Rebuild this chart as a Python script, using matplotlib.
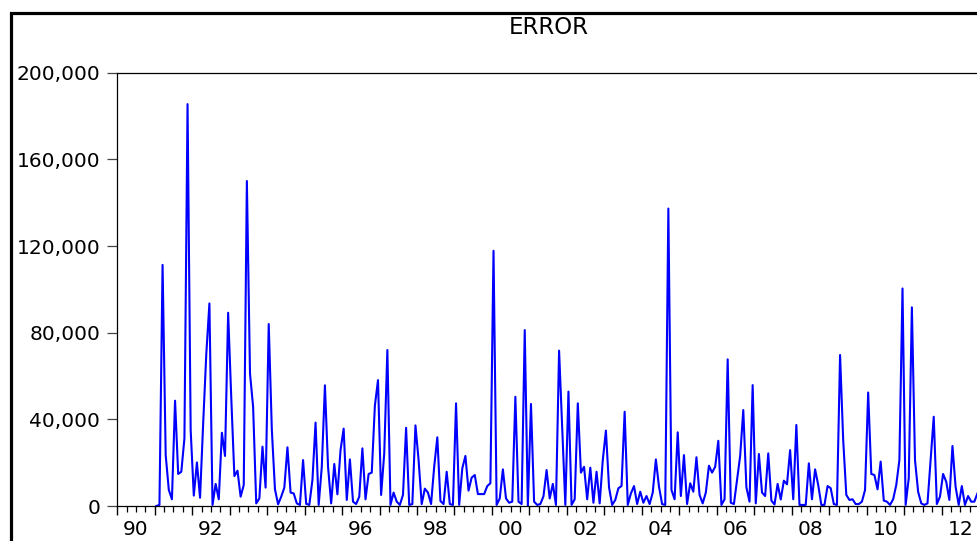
import numpy as np
import matplotlib
matplotlib.use("Agg")
import matplotlib.pyplot as plt
from matplotlib.patches import Rectangle
from matplotlib.ticker import FuncFormatter

plt.rcParams['font.family'] = ['DejaVu Sans']

# monthly forecast error, Jan 1991 onwards (one row per year)
err_91_94 = [
    0, 500, 111300, 23500, 7400, 3100, 48600, 14800, 15800, 31200, 185500, 35000,
    4800, 20100, 3800, 38000, 70000, 93500, 500, 10200, 3100, 33800, 23100, 89200,
    50000, 13800, 16300, 4300, 9700, 150000, 61200, 45800, 1200, 3500, 27400, 8500,
    84000, 35000, 7700, 800, 4300, 8500, 27100, 6200, 5800, 1200, 500, 21200,
]
err_95_98 = [
    1000, 500, 12000, 38500, 500, 18100, 55700, 18100, 1200, 19400, 5400, 25800,
    35700, 2800, 21500, 2000, 900, 4300, 26600, 3100, 14800, 15400, 46300, 58100,
    5100, 24300, 72000, 500, 6200, 2000, 500, 5100, 36100, 500, 900, 37200,
    21200, 900, 8000, 6200, 900, 18100, 31700, 2300, 900, 15800, 900, 500,
]
err_99_02 = [
    47400, 500, 17400, 23100, 7100, 13100, 14300, 5500, 5500, 5500, 9200, 10500,
    117800, 500, 3500, 16900, 3500, 1500, 2000, 50400, 2000, 900, 81200, 0,
    47100, 2000, 500, 900, 4500, 16600, 3500, 10200, 500, 71700, 36600, 500,
    52800, 500, 3100, 47400, 15400, 18100, 3100, 17700, 1500, 15800, 1200, 21200,
]
err_03_06 = [
    34800, 8600, 500, 2800, 8200, 9200, 43500, 500, 5800, 9200, 900, 6600,
    1500, 4600, 900, 6200, 21500, 8900, 900, 500, 137300, 7400, 3100, 34000,
    4600, 23500, 900, 10500, 6600, 22500, 5100, 1200, 6200, 18600, 15400, 18100,
    30100, 500, 3100, 67700, 1500, 900, 12000, 23100, 44300, 8600, 2000, 55800,
]
err_07_10 = [
    1200, 24000, 6200, 4600, 24300, 2500, 700, 10200, 3000, 11700, 10000, 25800,
    3100, 37400, 500, 500, 500, 19700, 3100, 16900, 9700, 500, 500, 9200,
    8200, 900, 500, 69700, 30500, 5100, 2800, 3100, 900, 900, 2000, 7400,
    52400, 14800, 14300, 7700, 20500, 2500, 2000, 500, 3100, 9700, 21200, 100400,
]
err_11_12 = [
    500, 12800, 91700, 21200, 6600, 1200, 500, 1200, 21200, 41200, 900, 4300,
    14800, 11200, 2800, 27700, 8900, 500, 9200, 500, 4600, 2000, 2000, 5800,
]

first_year = 1991
year_labels = ["90", "92", "94", "96", "98", "00", "02", "04", "06", "08", "10", "12"]
label_years = list(range(1990, 2013, 2))
y_ticks = [0, 40000, 80000, 120000, 160000, 200000]

error = np.concatenate([err_91_94, err_95_98, err_99_02, err_03_06, err_07_10, err_11_12])
# monthly points sit at mid-month
t = first_year + (np.arange(len(error)) + 0.5) / 12.0

W, H = 977, 541
fig = plt.figure(figsize=(W / 100, H / 100), dpi=100)
ax = fig.add_axes([117.3 / W, 35 / H, (979 - 117.3) / W, 433.3 / H])

ax.plot(t, error, color="#0000ff", lw=1.5)

ax.set_xlim(1990, 2013)
ax.set_ylim(0, 200000)

ax.spines['right'].set_visible(False)
for s in ['left', 'top', 'bottom']:
    ax.spines[s].set_linewidth(0.9)
    ax.spines[s].set_color('black')

ax.set_yticks(y_ticks)
ax.yaxis.set_major_formatter(FuncFormatter(lambda v, p: f"{v:,.0f}"))
ax.tick_params(axis='y', length=7.2, width=0.9, color='#444444', pad=5.0,
               labelsize=14.5)

# yearly major ticks, quarterly minor ticks, labels centred on the year
ax.set_xticks(np.arange(1990, 2014))
ax.set_xticks(np.arange(1990, 2013.01, 0.25), minor=True)
ax.set_xticklabels([])
ax.tick_params(axis='x', which='major', length=6.5, width=1.0, color='black')
ax.tick_params(axis='x', which='minor', length=4.0, width=0.9, color='black')
for yr, lab in zip(label_years, year_labels):
    ax.text(yr + 0.5, (506 - 529.5) / 433.3, lab, transform=ax.get_xaxis_transform(),
            ha='center', va='center', fontsize=14.5)

fig.text(549 / W, 1 - 28 / H, "ERROR", ha='center', va='center', fontsize=16.5)

# outer frame, runs off the right and bottom edges
frame = Rectangle((10.8 / W, -0.1), 1.2, (H - 12.5) / H + 0.1, transform=fig.transFigure,
                  fill=False, edgecolor='black', lw=2.3, clip_on=False)
fig.patches.append(frame)

fig.savefig("out.png", dpi=100)
